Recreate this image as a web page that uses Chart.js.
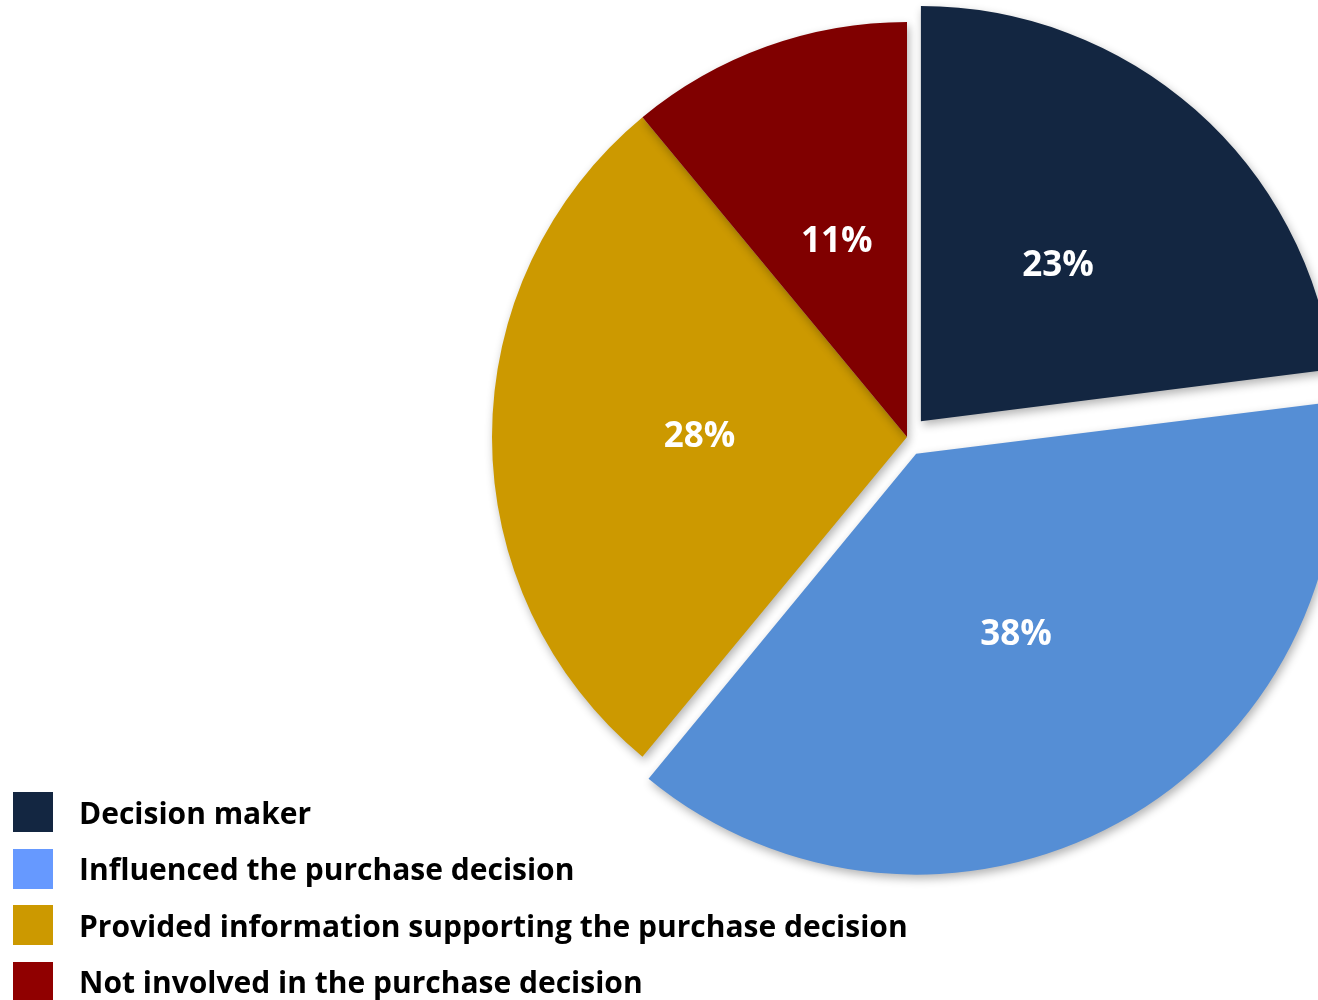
<!DOCTYPE html>
<html>
<head>
<meta charset="utf-8">
<script src="https://cdn.jsdelivr.net/npm/chart.js@4"></script>
<style>
  body { margin: 0; background: #fff; }
  #wrap { position: relative; width: 1318px; height: 1000px; overflow: hidden; }
  #legend { position: absolute; left: 13px; top: 792px; font-family: "Open Sans", sans-serif; font-weight: 700; font-size: 30px; color: #000; }
  #legend .row { display: flex; align-items: center; height: 40px; margin-bottom: 16.5px; white-space: nowrap; }
  #legend .box { width: 40px; height: 40px; margin-right: 26px; flex: none; }
</style>
</head>
<body>
<div id="wrap">
  <canvas id="myChart" width="1318" height="1000"></canvas>
  <div id="legend"></div>
</div>
<script>
var labels = ["Decision maker", "Influenced the purchase decision", "Provided information supporting the purchase decision", "Not involved in the purchase decision"];
var values = [23, 38, 28, 11];
var sliceColors = ["#132641", "#558ED5", "#CC9900", "#800000"];
var legendColors = ["#132641", "#6699FF", "#CC9900", "#900000"];
// how far each slice is pulled out, in px
var explode = [21, 19, 0, 0];

// percent labels in the middle of each slice
var pctLabels = {
  id: 'pctLabels',
  afterDatasetsDraw: function(chart) {
    var ctx = chart.ctx;
    var meta = chart.getDatasetMeta(0);
    ctx.save();
    ctx.fillStyle = '#fff';
    ctx.font = 'bold 35px "Open Sans", sans-serif';
    ctx.textAlign = 'center';
    ctx.textBaseline = 'middle';
    meta.data.forEach(function(arc, i) {
      var mid = (arc.startAngle + arc.endAngle) / 2;
      var r = arc.outerRadius / 2 + explode[i];
      ctx.fillText(values[i] + '%', arc.x + Math.cos(mid) * r, arc.y + Math.sin(mid) * r);
    });
    ctx.restore();
  }
};

// soft shadow under the slices
var sliceShadow = {
  id: 'sliceShadow',
  beforeDatasetsDraw: function(chart) {
    var ctx = chart.ctx;
    ctx.save();
    ctx.shadowColor = 'rgba(0,0,0,0.3)';
    ctx.shadowBlur = 10;
    ctx.shadowOffsetX = 2;
    ctx.shadowOffsetY = 4;
  },
  afterDatasetsDraw: function(chart) {
    chart.ctx.restore();
  }
};

var ctx = document.getElementById("myChart");
var myChart = new Chart(ctx, {
  type: 'pie',
  data: {
    labels: labels,
    datasets: [{
      data: values,
      backgroundColor: sliceColors,
      borderWidth: 0,
      // chart.js moves an arc by offset/4
      offset: explode.map(function(o) { return o * 4; })
    }]
  },
  options: {
    responsive: false,
    animation: false,
    radius: 415,
    layout: { padding: { left: 496, right: 0, top: 0, bottom: 126 } },
    plugins: {
      legend: { display: false },
      tooltip: { enabled: false }
    }
  },
  plugins: [sliceShadow, pctLabels]
});

// legend built from the same arrays
var legend = document.getElementById('legend');
labels.forEach(function(l, i) {
  var row = document.createElement('div');
  row.className = 'row';
  var box = document.createElement('span');
  box.className = 'box';
  box.style.background = legendColors[i];
  var txt = document.createElement('span');
  txt.textContent = l;
  row.appendChild(box);
  row.appendChild(txt);
  legend.appendChild(row);
});
</script>
</body>
</html>
